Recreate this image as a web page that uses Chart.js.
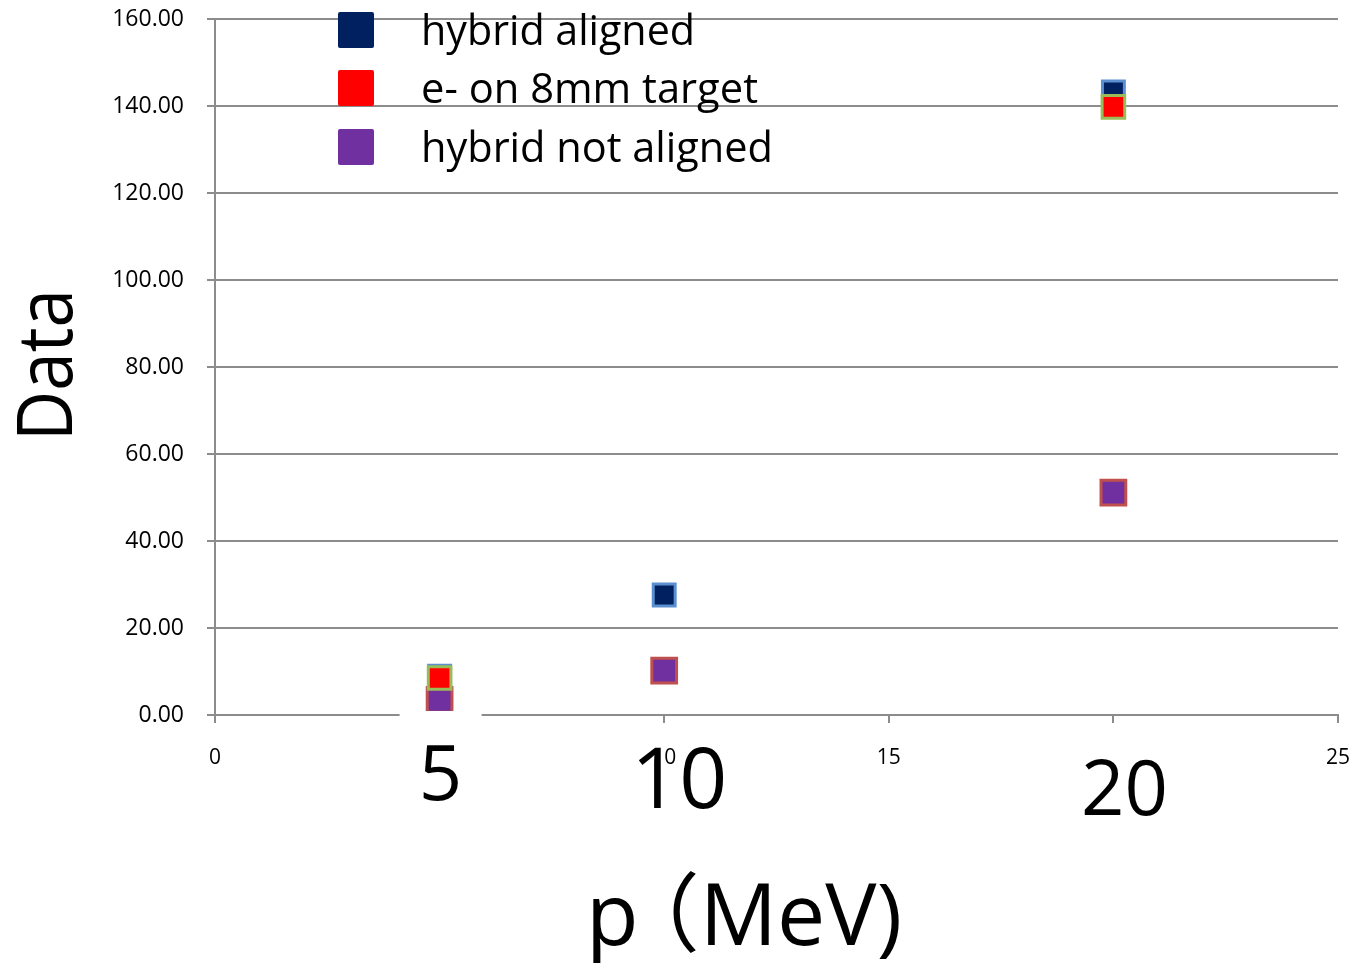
<!DOCTYPE html>
<html>
<head>
<meta charset="utf-8">
<title>p (MeV) chart</title>
<script src="https://cdn.jsdelivr.net/npm/chart.js@4/dist/chart.umd.min.js"></script>
<style>
    html, body { margin: 0; padding: 0; background: #fff; }
    #chart { display: block; }
</style>
</head>
<body>
<canvas id="chart" width="1355" height="963"></canvas>
<script>
/**=========================================================
 * Scatter: hybrid aligned / e- on 8mm target / hybrid not aligned
 =========================================================*/

var seriesNames = ["hybrid aligned", "e- on 8mm target", "hybrid not aligned"];

var hybridAlignedX = [5, 10, 20];
var hybridAlignedY = [8.9, 27.6, 143.2];

var targetX = [5, 20];
var targetY = [8.5, 139.8];

var notAlignedX = [5, 10, 20];
var notAlignedY = [3.5, 10.2, 51.1];

var bigXLabels = ["5", "10", "20"];
var bigXLabelValues = [5, 10, 20];

(function () {
    'use strict';

    var FONT = "'Open Sans', 'Noto Sans', 'Noto Sans CJK JP', sans-serif";
    var GRID = "#8c8c8c";

    var fills = ["#002060", "#ff0000", "#7030a0"];
    var borders = ["#5b8fd0", "#9bbb59", "#c0504d"];

    function points(xs, ys) {
        return xs.map(function (x, i) {
            return { x: x, y: ys[i] };
        });
    }

    // legend drawn by hand so it can sit inside the plot, over the gridlines
    var legendPlugin = {
        id: "legendInPlot",
        afterDraw: function (chart) {
            var ctx = chart.ctx;
            var rows = [30, 88, 147];
            var widths = [274, 337, 352];
            ctx.save();
            ctx.font = "42px " + FONT;
            ctx.textBaseline = "alphabetic";
            ctx.textAlign = "left";
            seriesNames.forEach(function (name, i) {
                ctx.fillStyle = fills[i];
                ctx.beginPath();
                ctx.roundRect(338, rows[i] - 18, 36, 36, 2);
                ctx.fill();
                ctx.fillStyle = "#000";
                ctx.fillText(name, 421, rows[i] + 15, widths[i]);
            });
            ctx.restore();
        }
    };

    // big hand placed labels under the x axis + axis titles
    var titlesPlugin = {
        id: "titles",
        afterDraw: function (chart) {
            var ctx = chart.ctx;
            var xs = chart.scales.x;
            var sizes = [76, 84, 76];
            var baselines = [800, 808, 815];
            var boxes = [true, false, true];
            ctx.save();

            bigXLabels.forEach(function (txt, i) {
                var px = xs.getPixelForValue(bigXLabelValues[i]);
                if (boxes[i]) {
                    ctx.fillStyle = "#fff";
                    var top = i === 0 ? 711 : 725;
                    ctx.fillRect(px - 40, top, 82, 110);
                }
            });
            bigXLabels.forEach(function (txt, i) {
                var px = xs.getPixelForValue(bigXLabelValues[i]);
                ctx.fillStyle = "#000";
                ctx.font = sizes[i] + "px " + FONT;
                ctx.textAlign = "center";
                ctx.textBaseline = "alphabetic";
                var off = i === 0 ? 1 : (i === 1 ? 15 : 11);
                ctx.fillText(txt, px + off, baselines[i]);
            });

            // x title, in two pieces because the wide paren has a big left bearing
            ctx.fillStyle = "#000";
            ctx.font = "86px " + FONT;
            ctx.textAlign = "left";
            ctx.fillText("p", 586, 945);
            ctx.textAlign = "right";
            ctx.fillText("\uFF08MeV)", 902, 945);

            ctx.translate(50, 365);
            ctx.rotate(-Math.PI / 2);
            ctx.textAlign = "center";
            ctx.font = "76px " + FONT;
            ctx.textBaseline = "middle";
            ctx.fillText("Data", 0, 0, 152);
            ctx.restore();
        }
    };

    var ctx = document.getElementById("chart").getContext("2d");

    var data = {
        datasets: [
            {
                label: seriesNames[0],
                data: points(hybridAlignedX, hybridAlignedY),
                backgroundColor: fills[0],
                borderColor: borders[0],
                borderWidth: 3,
                pointStyle: "rect",
                pointRadius: 15.5,
                order: 2
            },
            {
                label: seriesNames[1],
                data: points(targetX, targetY),
                backgroundColor: fills[1],
                borderColor: borders[1],
                borderWidth: 3,
                pointStyle: "rect",
                pointRadius: 16,
                order: 0
            },
            {
                label: seriesNames[2],
                data: points(notAlignedX, notAlignedY),
                backgroundColor: fills[2],
                borderColor: borders[2],
                borderWidth: 3,
                pointStyle: "rect",
                pointRadius: 17.5,
                order: 1
            }
        ]
    };

    var options = {
        responsive: false,
        animation: false,
        devicePixelRatio: 1,
        events: [],
        clip: false,
        layout: {
            autoPadding: false,
            padding: { top: 19, right: 17, left: 0, bottom: 0 }
        },
        plugins: {
            legend: { display: false },
            tooltip: { enabled: false }
        },
        scales: {
            x: {
                type: "linear",
                min: 0,
                max: 25,
                afterFit: function (scale) {
                    scale.height = 248;
                    // no extra room for the end labels
                    scale.paddingLeft = 0;
                    scale.paddingRight = 0;
                },
                ticks: {
                    stepSize: 5,
                    color: "#000",
                    padding: 22,
                    maxRotation: 0,
                    font: { family: FONT, size: 21 }
                },
                grid: {
                    drawOnChartArea: false,
                    drawTicks: true,
                    tickLength: 8,
                    color: GRID,
                    lineWidth: 2
                },
                border: { display: true, color: GRID, width: 2 }
            },
            y: {
                min: 0,
                max: 160,
                afterFit: function (scale) {
                    scale.width = 215;
                    scale.paddingTop = 0;
                    scale.paddingBottom = 0;
                },
                ticks: {
                    stepSize: 20,
                    color: "#000",
                    padding: 23,
                    font: { family: FONT, size: 23 },
                    callback: function (v) { return v.toFixed(2); }
                },
                grid: {
                    color: GRID,
                    lineWidth: 2,
                    tickLength: 8
                },
                border: { display: true, color: GRID, width: 2 }
            }
        }
    };

    new Chart(ctx, {
        type: "scatter",
        data: data,
        options: options,
        plugins: [legendPlugin, titlesPlugin]
    });

})();
</script>
</body>
</html>
